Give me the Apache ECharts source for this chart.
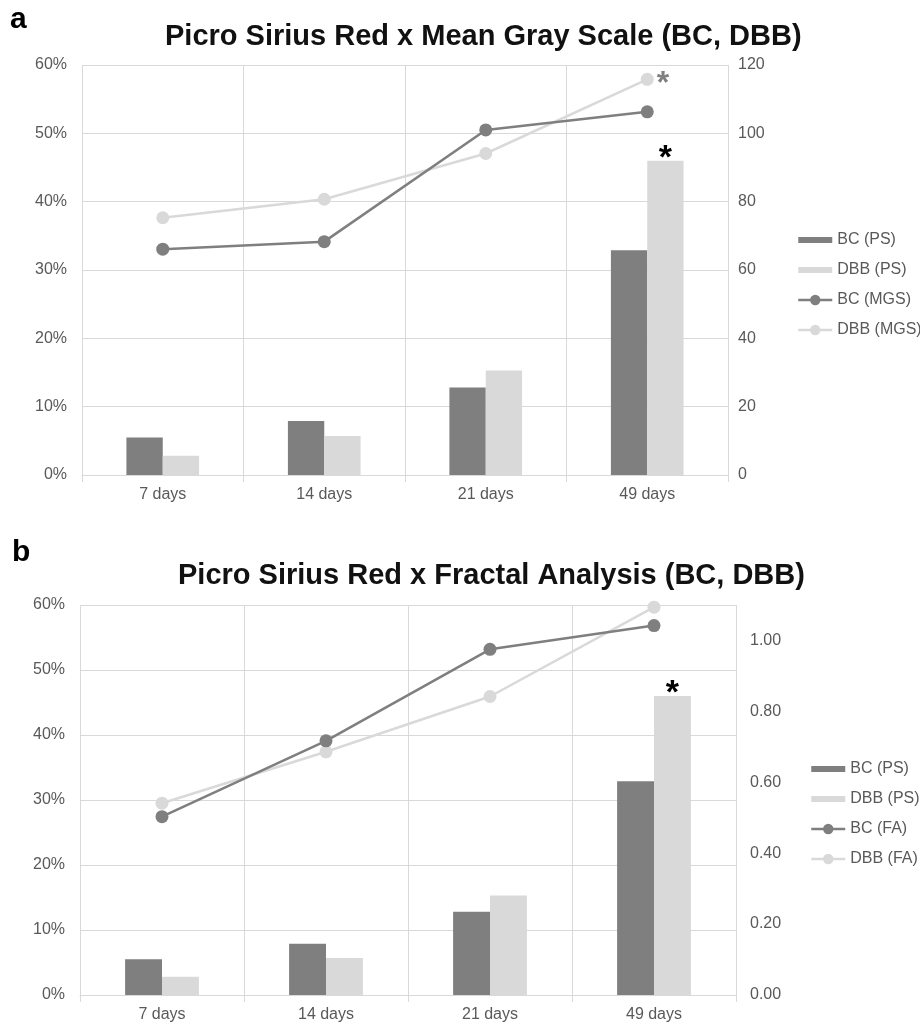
<!DOCTYPE html>
<html>
<head>
<meta charset="utf-8">
<script src="https://cdn.jsdelivr.net/npm/echarts@6/dist/echarts.min.js"></script>
<style>
html,body{margin:0;padding:0;background:#fff;}
#chart{width:920px;height:1027px;}
</style>
</head>
<body>
<div id="chart"></div>
<script>
// ---- data ----
const categories = ['7 days', '14 days', '21 days', '49 days'];
const bcPS  = [5.5, 7.9, 12.8, 32.9];     // % (left axis)
const dbbPS = [2.8, 5.7, 15.3, 46.0];     // % (left axis)
const bcMGS  = [66.1, 68.3, 101.0, 106.3]; // right axis (chart a)
const dbbMGS = [75.3, 80.7, 94.1, 115.8];  // right axis (chart a)
const bcFA  = [0.503, 0.717, 0.975, 1.042]; // right axis (chart b)
const dbbFA = [0.541, 0.686, 0.842, 1.094]; // right axis (chart b)
const sigPS  = [false, false, false, true];
const sigMGS = [false, false, false, true];
const sigFA  = [false, false, false, false];
const titleA = 'Picro Sirius Red x Mean Gray Scale (BC, DBB)';
const titleB = 'Picro Sirius Red x Fractal Analysis (BC, DBB)';
const leftTicks = {min: 0, max: 60, interval: 10};
const rightTicksA = {min: 0, max: 120, interval: 20};
const rightTicksB = {min: 0, max: 1.1, interval: 0.2};

// ---- style ----
const FONT = '"Liberation Sans", Arial, Helvetica, sans-serif';
const DARK = '#7f7f7f';
const LIGHT = '#d9d9d9';
const GRID = '#d9d9d9';
const LABEL = '#595959';
const barIcon = 'path://M0,0M0,4h34v7h-34zM34,15';

function barData(vals, sig) {
  return vals.map((v, i) => sig[i] ? {
    value: v,
    label: {show: true, position: 'top', formatter: '*', distance: 0, offset: [0, 15],
            color: '#000', fontSize: 34, fontWeight: 'bold', fontFamily: FONT}
  } : v);
}
function lineData(vals, sig) {
  return vals.map((v, i) => sig[i] ? {
    value: v,
    label: {show: true, position: 'right', formatter: '*', distance: 3, offset: [0, 5],
            color: '#808080', fontSize: 32, fontWeight: 'bold', fontFamily: FONT}
  } : v);
}

function xAxis(gridIndex) {
  return {
    type: 'category', gridIndex, data: categories,
    axisLine: {show: true, lineStyle: {color: GRID, width: 1}},
    axisTick: {show: true, length: 7, interval: 0, lineStyle: {color: GRID}},
    splitLine: {show: true, interval: 0, lineStyle: {color: GRID, width: 1}},
    axisLabel: {color: LABEL, fontSize: 16, fontFamily: FONT, margin: 12, interval: 0}
  };
}
function leftAxis(gridIndex, margin) {
  return {
    type: 'value', gridIndex, position: 'left',
    min: leftTicks.min, max: leftTicks.max, interval: leftTicks.interval,
    axisLine: {show: false}, axisTick: {show: false},
    splitLine: {show: true, lineStyle: {color: GRID, width: 1}},
    axisLabel: {color: LABEL, fontSize: 16, fontFamily: FONT, margin, formatter: '{value}%'}
  };
}
function rightAxis(gridIndex, t, margin, fmt) {
  return {
    type: 'value', gridIndex, position: 'right',
    min: t.min, max: t.max, interval: t.interval,
    axisLine: {show: false}, axisTick: {show: false}, splitLine: {show: false},
    axisLabel: {color: LABEL, fontSize: 16, fontFamily: FONT, margin, formatter: fmt, showMaxLabel: fmt ? false : true}
  };
}
function series(xi, yl, yr, lineBC, lineDBB, nameBC, nameDBB, sigLine) {
  return [
    {name: 'BC (PS)', type: 'bar', xAxisIndex: xi, yAxisIndex: yl, data: bcPS,
     barGap: '0%', barCategoryGap: '55%', itemStyle: {color: DARK}, z: 2},
    {name: 'DBB (PS)', type: 'bar', xAxisIndex: xi, yAxisIndex: yl, data: barData(dbbPS, sigPS),
     barGap: '0%', barCategoryGap: '55%', itemStyle: {color: LIGHT}, z: 2},
    {name: nameBC, type: 'line', xAxisIndex: xi, yAxisIndex: yr, data: lineBC,
     symbol: 'circle', symbolSize: 13, lineStyle: {color: DARK, width: 2.5},
     itemStyle: {color: DARK}, z: 4},
    {name: nameDBB, type: 'line', xAxisIndex: xi, yAxisIndex: yr, data: lineData(lineDBB, sigLine),
     symbol: 'circle', symbolSize: 13, lineStyle: {color: LIGHT, width: 2.5},
     itemStyle: {color: LIGHT}, z: 3}
  ];
}
function legend(left, top, names) {
  return {
    orient: 'vertical', left, top, itemWidth: 34, itemHeight: 13, itemGap: 14,
    symbolKeepAspect: false, selectedMode: false,
    textStyle: {color: LABEL, fontSize: 16, fontFamily: FONT},
    data: [
      {name: names[0], icon: barIcon},
      {name: names[1], icon: barIcon},
      {name: names[2], lineStyle: {width: 2.5}},
      {name: names[3], lineStyle: {width: 2.5}}
    ]
  };
}

const option = {
  animation: false,
  backgroundColor: '#fff',
  title: [
    {text: titleA, left: 160, top: 17, textStyle: {fontSize: 29, fontWeight: 'bold', color: '#111', fontFamily: FONT}},
    {text: titleB, left: 173, top: 556, textStyle: {fontSize: 29, fontWeight: 'bold', color: '#111', fontFamily: FONT}}
  ],
  graphic: [
    {type: 'text', left: 10, top: 5, style: {text: 'a', fill: '#000', font: 'bold 30px ' + FONT}},
    {type: 'text', left: 12, top: 538, style: {text: 'b', fill: '#000', font: 'bold 30px ' + FONT}}
  ],
  legend: [
    legend(792, 227, ['BC (PS)', 'DBB (PS)', 'BC (MGS)', 'DBB (MGS)']),
    legend(805, 756, ['BC (PS)', 'DBB (PS)', 'BC (FA)', 'DBB (FA)'])
  ],
  grid: [
    {left: 82, top: 65, width: 646, height: 410},
    {left: 80, top: 605, width: 656, height: 390}
  ],
  xAxis: [xAxis(0), xAxis(1)],
  yAxis: [
    leftAxis(0, 15),
    rightAxis(0, rightTicksA, 10, null),
    leftAxis(1, 15),
    rightAxis(1, rightTicksB, 14, function (v) { return v > 1.05 ? '' : v.toFixed(2); })
  ],
  series: [].concat(
    series(0, 0, 1, bcMGS, dbbMGS, 'BC (MGS)', 'DBB (MGS)', sigMGS),
    series(1, 2, 3, bcFA, dbbFA, 'BC (FA)', 'DBB (FA)', sigFA)
  )
};

const chart = echarts.init(document.getElementById('chart'), null, {renderer: 'canvas'});
chart.setOption(option);
</script>
</body>
</html>
